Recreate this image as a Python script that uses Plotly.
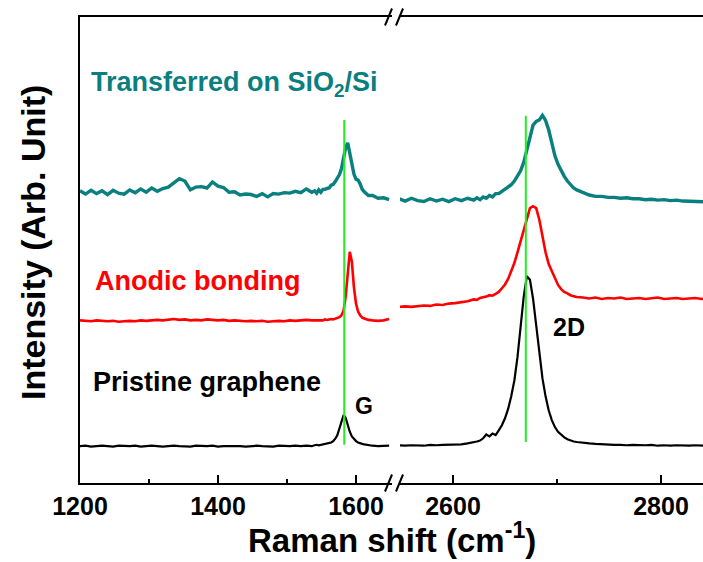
import plotly.graph_objects as go

# ---------------- data ----------------
# Raman shift sample positions (cm-1)
x_left = list(range(1200, 1540, 8)) + list(range(1540, 1620, 3)) + [1624, 1632, 1640, 1648]
x_right = list(range(2548, 2620, 6)) + list(range(2620, 2722, 3)) + list(range(2725, 2846, 6))

# Intensities (arb. units, already vertically offset as in the figure)
teal_left = [62.7, 62.0, 62.8, 62.1, 62.7, 61.9, 62.8, 62.2, 62.0, 62.9,
             62.3, 63.1, 62.4, 63.3, 62.6, 63.2, 63.5, 64.4, 65.3, 64.8,
             62.9, 63.5, 63.6, 63.3, 64.6, 63.7, 63.4, 62.4, 62.5, 61.8,
             62.0, 61.9, 61.5, 62.1, 61.4, 62.1, 62.0, 62.3, 62.2, 62.6,
             62.3, 63.1, 62.4,
             62.7, 62.2, 62.9, 62.4, 63.0, 63.0, 63.2, 63.3, 63.9, 64.1,
             64.7, 65.3, 66.2, 67.5, 69.5, 72.0, 73.0, 70.5, 68.0, 66.3,
             65.2, 65.0, 64.2, 63.0, 62.5, 62.2, 61.7,
             61.7, 61.1, 61.2, 60.8]
red_left = [34.9, 34.8, 34.7, 34.9, 34.8, 34.7, 34.8, 34.6, 34.7, 34.8,
            34.7, 34.9, 34.8, 34.9, 35.0, 34.9, 35.1, 35.2, 35.0, 35.1,
            34.9, 35.0, 34.9, 35.1, 35.0, 34.9, 35.0, 34.8, 34.9, 34.8,
            34.7, 34.8, 34.7, 34.8, 34.6, 34.7, 34.8, 34.7, 34.9, 34.8,
            34.9, 35.0, 34.9,
            34.9, 35.0, 34.9, 35.0, 34.9, 35.1, 35.0, 35.1, 35.2, 35.1,
            35.3, 35.4, 35.6, 36.0, 37.0, 40.0, 45.5, 49.6, 47.5, 42.0,
            38.5, 36.8, 36.0, 35.5, 35.3, 35.1, 35.0,
            34.9, 34.8, 34.9, 35.2]
black_left = [7.9, 8.0, 7.8, 7.9, 8.0, 7.9, 7.8, 8.0, 7.9, 7.9,
              8.0, 7.8, 7.9, 8.0, 7.9, 7.8, 7.9, 8.0, 7.9, 7.9,
              7.8, 8.0, 7.9, 7.9, 8.0, 7.8, 7.9, 7.9, 8.0, 7.9,
              7.8, 7.9, 8.0, 7.9, 7.9, 7.8, 8.0, 7.9, 7.9, 8.0,
              7.9, 8.0, 7.9,
              8.1, 8.2, 8.1, 8.2, 8.3, 8.3, 8.4, 8.5, 8.7, 9.0,
              9.5, 10.3, 11.6, 13.3, 14.6, 14.0, 12.4, 11.0, 10.0, 9.4,
              9.0, 8.7, 8.5, 8.4, 8.3, 8.2, 8.1,
              8.0, 7.9, 7.9, 8.0]

teal_right = [61.0, 60.5, 61.1, 60.6, 60.4, 61.0, 60.5, 60.9, 60.4, 61.0, 60.6, 61.1,
              60.7, 61.2, 60.8, 61.4, 61.1, 61.7, 61.4, 62.1, 62.1, 62.6,
              63.0, 63.4, 64.0, 64.8, 65.8, 67.0, 68.8, 71.5, 74.8, 76.8,
              77.6, 77.9, 78.9, 77.8, 75.8, 72.8, 70.2, 68.4, 67.0, 65.8,
              64.8, 64.0, 63.3, 62.9,
              62.4, 61.8, 61.5, 61.5, 61.3, 61.3, 61.1, 61.2, 61.0, 61.0,
              60.8, 60.9, 60.7, 60.8, 60.6, 60.7, 60.5, 60.5, 60.4, 60.4, 60.3]
red_right = [37.8, 37.9, 37.8, 38.0, 38.1, 38.0, 38.3, 38.2, 38.5, 38.6, 38.8, 39.0,
             39.4, 39.3, 39.7, 39.8, 40.0, 40.3, 40.2, 40.6, 41.0, 41.8,
             42.6, 43.8, 45.5, 47.2, 49.5, 52.0, 54.5, 57.0, 59.0, 59.4,
             59.0, 56.5, 53.0, 49.5, 47.0, 45.5, 43.8, 42.5, 41.6, 41.0,
             40.7, 40.3, 40.1, 39.9,
             39.8, 39.6, 39.8, 39.5, 39.7, 39.6, 39.8, 39.5, 39.6, 39.7,
             39.5, 39.6, 39.8, 39.5, 39.6, 39.7, 39.5, 39.6, 39.7, 39.5, 39.6]
black_right = [8.1, 8.0, 8.1, 8.1, 8.0, 8.2, 8.1, 8.2, 8.2, 8.3, 8.3, 8.5,
               8.7, 8.9, 9.1, 9.6, 10.4, 10.0, 10.6, 10.3, 11.3, 12.4,
               13.9, 15.9, 18.6, 22.0, 27.0, 33.5, 40.0, 44.4, 43.6, 39.5,
               33.5, 27.5, 22.5, 18.6, 15.6, 13.5, 12.0, 11.0, 10.3, 9.8,
               9.4, 9.1, 8.9, 8.8,
               8.6, 8.5, 8.4, 8.3, 8.3, 8.2, 8.2, 8.1, 8.2, 8.1,
               8.1, 8.2, 8.0, 8.1, 8.0, 8.1, 8.0, 8.0, 8.1, 8.0, 8.0]

# Reference (pristine) peak positions marked with green lines
g_line_x = [1583, 1583]
g_line_y = [77.9, 8.2]
d2_line_x = [2670, 2670]
d2_line_y = [78.8, 8.8]

left_ticks = [1200, 1400, 1600]
right_ticks = [2600, 2800]

series_names = ["Transferred on SiO2/Si", "Anodic bonding", "Pristine graphene"]

assert len(x_left) == len(teal_left) == len(red_left) == len(black_left)
assert len(x_right) == len(teal_right) == len(red_right) == len(black_right)

# ---------------- layout helpers ----------------
W, H = 703, 562
L, R, T, B = 80, 0, 17, 79
PW, PH = W - L - R, H - T - B


def px(x):
    return (x - L) / PW


def py(y):
    return (H - B - y) / PH


TEAL = "#0a7f7f"
RED = "#ff0000"
BLACK = "#000000"
GREEN = "#22ee22"
FONT = "Liberation Sans, Arial, sans-serif"

fig = go.Figure()

for xs, ys, col, w in [(x_left, teal_left, TEAL, 3.4), (x_left, red_left, RED, 2.6),
                       (x_left, black_left, BLACK, 2.2)]:
    fig.add_trace(go.Scatter(x=xs, y=ys, mode="lines", line=dict(color=col, width=w),
                             xaxis="x", yaxis="y", showlegend=False))
for xs, ys, col, w in [(x_right, teal_right, TEAL, 3.4), (x_right, red_right, RED, 2.6),
                       (x_right, black_right, BLACK, 2.2)]:
    fig.add_trace(go.Scatter(x=xs, y=ys, mode="lines", line=dict(color=col, width=w),
                             xaxis="x2", yaxis="y", showlegend=False))

fig.add_trace(go.Scatter(x=g_line_x, y=g_line_y, mode="lines", line=dict(color=GREEN, width=2),
                         xaxis="x", yaxis="y", showlegend=False))
fig.add_trace(go.Scatter(x=d2_line_x, y=d2_line_y, mode="lines", line=dict(color=GREEN, width=2),
                         xaxis="x2", yaxis="y", showlegend=False))

tickfont = dict(family=FONT, size=25, color="black", weight="bold")
common_x = dict(showline=True, linewidth=2, linecolor="black", mirror=True,
                ticks="inside", ticklen=8, tickwidth=2, tickcolor="black",
                showgrid=False, zeroline=False, tickfont=tickfont, automargin=False,
                minor=dict(ticks="inside", ticklen=4, tickwidth=2, tickcolor="black", dtick=100))

left_end = 392
right_start = 400
fig.update_layout(
    template="none",
    width=W, height=H,
    margin=dict(l=L, r=R, t=T, b=B, pad=0),
    paper_bgcolor="white", plot_bgcolor="white",
    xaxis=dict(domain=[0, px(left_end)], range=[1200, 1200 + (left_end - L) / 0.69],
               tickvals=left_ticks, ticktext=[str(v) for v in left_ticks], anchor="y", **common_x),
    xaxis2=dict(domain=[px(right_start), 1], range=[2600 - (453 - right_start) / 1.04, 2600 + (W - 453) / 1.04],
                tickvals=right_ticks, ticktext=[str(v) for v in right_ticks], anchor="y", **common_x),
    yaxis=dict(domain=[0, 1], range=[0, 100], showline=True, linewidth=2, linecolor="black",
               mirror=False, ticks="", showticklabels=False, showgrid=False, zeroline=False,
               anchor="x", automargin=False),
)

# axis break marks
shapes = []
for yb in (T, H - B):
    for x0 in (385, 396):
        shapes.append(dict(type="line", xref="paper", yref="paper",
                           x0=px(x0), y0=py(yb + 8.5), x1=px(x0 + 7), y1=py(yb - 8.5),
                           line=dict(color="black", width=2)))
fig.update_layout(shapes=shapes)

ann = []


def add_text(text, x, y, size, color, xanchor="left", angle=0):
    ann.append(dict(text=text, x=px(x), y=py(y), xref="paper", yref="paper",
                    xanchor=xanchor, yanchor="middle", showarrow=False, textangle=angle,
                    font=dict(family=FONT, size=size, color=color, weight="bold")))


add_text("Transferred on SiO<sub>2</sub>/Si", 89, 84, 27, TEAL)
add_text(series_names[1], 93, 281, 27, RED)
add_text(series_names[2], 91, 382, 27, BLACK)
add_text("G", 353, 406, 23, BLACK)
add_text("2D", 551, 327, 25, BLACK)
add_text("Raman shift (cm<sup>-1</sup>)", 392, 538, 33, BLACK, xanchor="center")
add_text("Intensity (Arb. Unit)", 33, 243, 34, BLACK, xanchor="center", angle=-90)
fig.update_layout(annotations=ann)

fig.write_html("out.html", config={"displayModeBar": False},
               post_script="document.body.style.margin='0';document.body.style.overflow='hidden';")
